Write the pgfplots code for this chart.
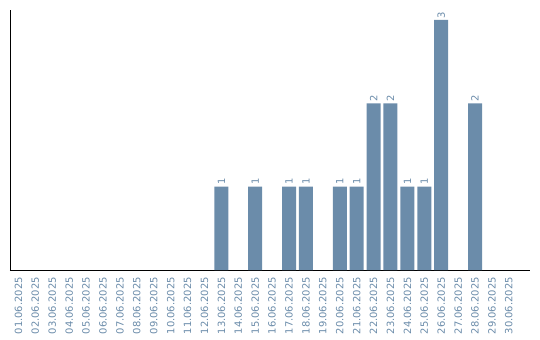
\documentclass[border=0pt]{standalone}
\usepackage{pgfplots}
\pgfplotsset{compat=1.18}
\usepackage{fontspec}
\setmainfont{DejaVu Sans}
\definecolor{barc}{HTML}{6B8CAA}
\begin{document}
\begin{tikzpicture}
\path[use as bounding box] (-10bp,-70bp) rectangle (530bp,270bp);
\begin{axis}[
  at={(0,0)}, anchor=origin,
  scale only axis, width=520bp, height=260bp,
  xmin=0.5, xmax=31.25, ymin=0, ymax=3.12,
  axis x line*=bottom, axis y line*=left,
  axis line style={black, line width=0.8bp, -},
  ytick=\empty,
  xtick={1,...,30},
  xticklabels={01.06.2025,02.06.2025,03.06.2025,04.06.2025,05.06.2025,06.06.2025,07.06.2025,08.06.2025,09.06.2025,10.06.2025,11.06.2025,12.06.2025,13.06.2025,14.06.2025,15.06.2025,16.06.2025,17.06.2025,18.06.2025,19.06.2025,20.06.2025,21.06.2025,22.06.2025,23.06.2025,24.06.2025,25.06.2025,26.06.2025,27.06.2025,28.06.2025,29.06.2025,30.06.2025},
  x tick label style={rotate=90, anchor=east, font=\fontsize{10}{12}\selectfont, text=barc, inner sep=0pt},
  major tick length=0pt,
  xticklabel shift=7bp,
  ybar, bar width=14bp,
  /pgf/number format/assume math mode=true,
  nodes near coords,
  every node near coord/.append style={rotate=90, anchor=west, font=\fontsize{10}{12}\selectfont, text=barc, inner sep=1.5bp},
]
\addplot[fill=barc, draw=none, bar shift=0pt] coordinates {
(13,1) (15,1) (17,1) (18,1) (20,1) (21,1) (22,2) (23,2) (24,1) (25,1) (26,3) (28,2)
};
\end{axis}
\end{tikzpicture}
\end{document}
